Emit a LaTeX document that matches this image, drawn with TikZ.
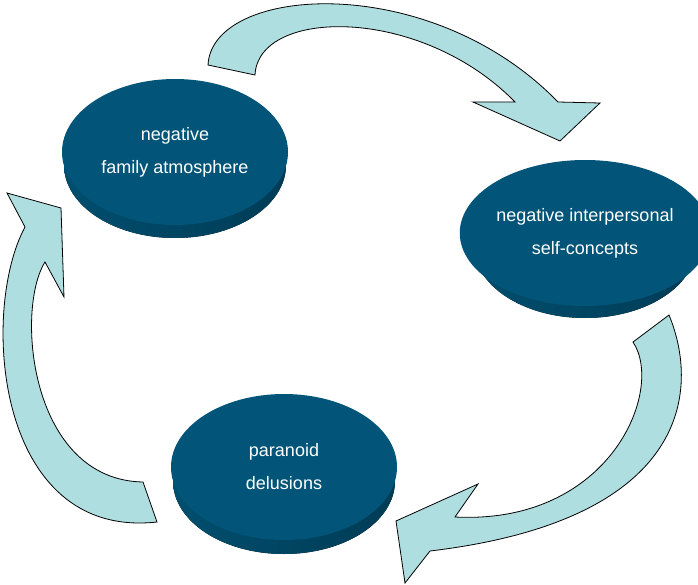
\documentclass[tikz,border=0pt]{standalone}
\usepackage{fontspec}
\setmainfont{Liberation Sans}
\usetikzlibrary{shapes.geometric}
\definecolor{discface}{RGB}{2,85,120}
\definecolor{discrim}{RGB}{1,78,110}
\definecolor{discrimdark}{RGB}{0,60,86}
\definecolor{loopfill}{RGB}{174,222,224}
\tikzset{
    feedback/.style={
        disc/.style={ellipse, fill=discface, text=white, inner sep=0pt,
            minimum width=226pt, minimum height=146pt, align=center,
            font=\fontsize{18}{33}\selectfont},
        rim/.style={left color=discrim, middle color=discrim, right color=discrimdark},
        fatarrow/.style={fill=loopfill, draw=black, line width=0.8pt},
    },
}

\begin{document}
\begin{tikzpicture}[feedback, x=1pt, y=-1pt]
            \useasboundingbox (0,0) rectangle (698,585);
            % curved block arrows
            \filldraw[fatarrow] (255,75) .. controls (258,8) and (420,5) .. (515,102)
                -- (473,102) -- (560,141) -- (600,103) -- (558,102)
                .. controls (430,-30) and (212,-15) .. (208,65) -- cycle;
            \filldraw[fatarrow] (633,342) .. controls (665,390) and (610,525) .. (455,517)
                -- (478,484) -- (396,521) -- (405,583) -- (430,551)
                .. controls (690,520) and (700,390) .. (669,315) -- cycle;
            \filldraw[fatarrow] (143,482) .. controls (30,480) and (15,310) .. (45,262)
                -- (64,297) -- (61,208) -- (7,193) -- (25,227)
                .. controls (-20,310) and (-5,540) .. (157,522) -- cycle;
            % disc rims, then faces
            \fill[rim] (175,165) ellipse (111 and 73);
            \fill[rim] (585,246) ellipse (111 and 72);
            \fill[rim] (284,481) ellipse (111 and 73);
            \node[disc] (family)   at (175,152) {negative\\family atmosphere};
            \node[disc] (selfcon)  at (585,233) {negative interpersonal\\self-concepts};
            \node[disc] (paranoid) at (284,467) {paranoid\\delusions};
        \end{tikzpicture}
\end{document}
